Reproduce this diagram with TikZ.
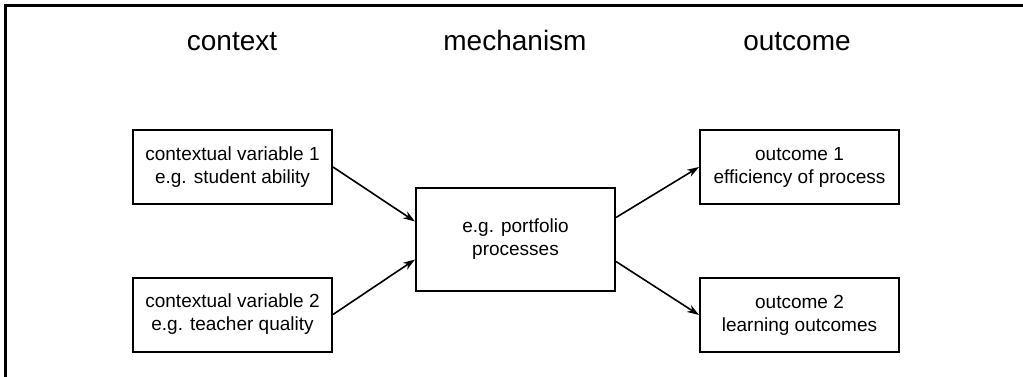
\documentclass[tikz,border=0pt]{standalone}
\usepackage{fontspec}
\setmainfont{Liberation Sans}
\usetikzlibrary{arrows.meta}
\begin{document}
\begin{tikzpicture}[x=1pt,y=-1pt,
  heading/.style={font=\fontsize{28}{32}\selectfont, inner sep=0pt, anchor=base},
  box/.style={draw, line width=2pt, minimum width=199pt, minimum height=74pt,
    align=center, inner sep=0pt, font=\fontsize{19}{23}\selectfont},
  flow/.style={line width=1.6pt, -{Stealth[length=12pt,width=8pt]}}]
  \useasboundingbox (0,0) rectangle (1023,376);
  % cropped outer frame: only the top and left edges are visible
  \draw[line width=3pt] (5,390) -- (5,5) -- (1040,5);

  % column headings
  \node[heading] (hctx) at (232,50) {context};
  \node[heading] (hmech) at (515,50) {mechanism};
  \node[heading] (hout) at (797,50) {outcome};

  % boxes
  \node[box] (c1) at (232.5,167) {contextual variable 1\\e.g. student ability};
  \node[box] (c2) at (232.5,314.5) {contextual variable 2\\e.g. teacher quality};
  \node[box, minimum height=103pt] (m) at (515.5,239.5) {e.g. portfolio\\processes};
  \node[box] (o1) at (799.5,167) {outcome 1\\efficiency of process};
  \node[box] (o2) at (799.5,315) {outcome 2\\learning outcomes};

  % connectors (yshift acts in page direction: positive is upward)
  \draw[flow] (c1.east) -- ([yshift=18pt]m.west);
  \draw[flow] (c2.east) -- ([yshift=-20pt]m.west);
  \draw[flow] ([yshift=22pt]m.east) -- (o1.west);
  \draw[flow] ([yshift=-22pt]m.east) -- (o2.west);
\end{tikzpicture}
\end{document}
